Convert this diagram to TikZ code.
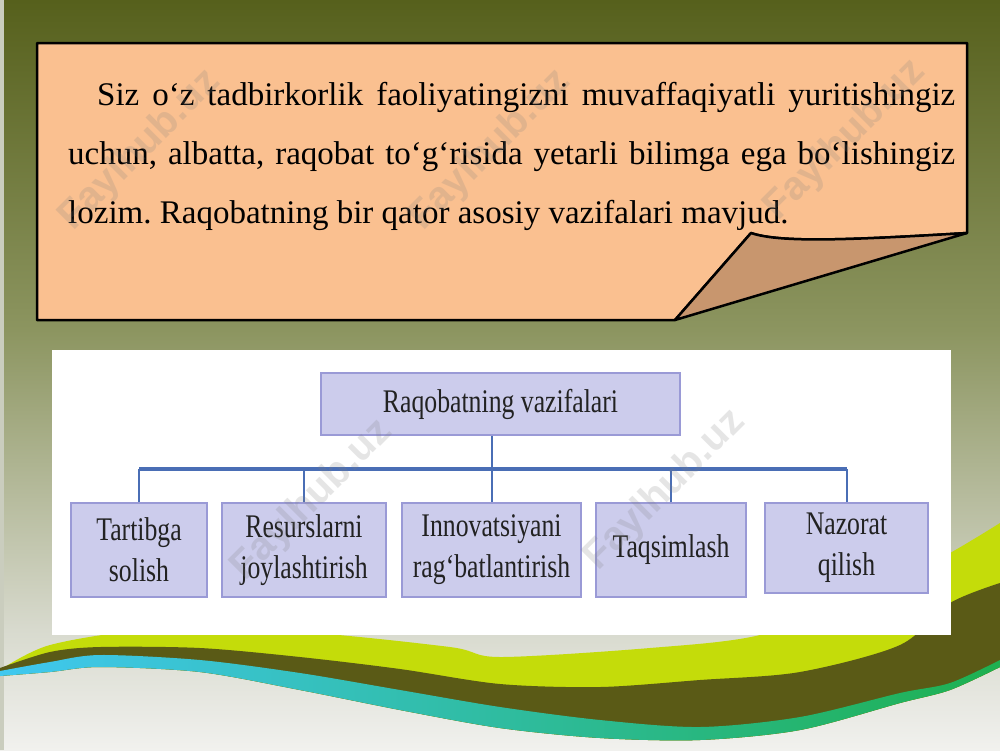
\documentclass[tikz,border=0pt]{standalone}
\usepackage{fontspec}
\setmainfont{Liberation Serif}
\newfontfamily\ChartFont[FakeStretch=0.78]{Liberation Serif}
\newfontfamily\MarkFont{Liberation Sans}
\usetikzlibrary{positioning}
\definecolor{SlideTop}{HTML}{56601C}
\definecolor{SlideMid}{HTML}{8C9560}
\definecolor{SlideLow}{HTML}{D8DACE}
\definecolor{SlideFloor}{HTML}{F1F1EE}
\definecolor{SlideStrip}{HTML}{CACDBE}
\definecolor{NoteFill}{HTML}{FAC090}
\definecolor{NoteFold}{HTML}{C8966E}
\definecolor{ChartFill}{HTML}{CCCCEC}
\definecolor{ChartEdge}{HTML}{9A9AD6}
\definecolor{ChartLink}{HTML}{4A6EB5}
\definecolor{ChartInk}{HTML}{222222}
\definecolor{WaveLime}{HTML}{C4DC0A}
\definecolor{WaveOlive}{HTML}{5A5A16}
\definecolor{WaveCyan}{HTML}{40C8F0}
\definecolor{WaveGreen}{HTML}{1EB050}
\newcommand{\Watermark}[2]{%
  \node[rotate=45,text=gray,opacity=0.2,font=\MarkFont\bfseries\fontsize{40}{40}\selectfont]
    (#1) at (#2) {Faylhub.uz};%
}
\frenchspacing

\begin{document}
\begin{tikzpicture}[
  x=1pt,y=-1pt,
  chartbox/.style={draw=ChartEdge,line width=1.6pt,fill=ChartFill,text=ChartInk,
                   inner sep=0pt,align=center,font=\ChartFont\fontsize{33}{41}\selectfont},
  link/.style={draw=ChartLink,line width=2pt},
  bus/.style={draw=ChartLink,line width=3.5pt},
  fold/.style={draw=black,line width=2.5pt,line join=round},
]
  \useasboundingbox (0,0) rectangle (1000,750);
  \shade[top color=SlideTop,bottom color=SlideMid] (0,0) rectangle (1000,330);
  \shade[top color=SlideMid,bottom color=SlideLow] (0,330) rectangle (1000,630);
  \shade[top color=SlideLow,bottom color=SlideFloor] (0,630) rectangle (1000,750);
  \fill[SlideStrip] (0,0) rectangle (4,750);

  \fill[WaveLime] plot[smooth] coordinates {(0,670) (50,645) (150,630) (300,632) (450,647)
      (500,657) (650,648) (760,635) (870,595) (950,553) (1000,523)}
    -- plot[smooth] coordinates {(1000,667) (950,690) (900,703) (800,730) (700,740) (600,738)
      (500,728) (400,710) (300,690) (200,672) (100,667) (50,672) (0,676)} -- cycle;
  \fill[WaveOlive] plot[smooth] coordinates {(0,668) (50,652) (100,647) (200,648) (300,657)
      (400,669) (500,684) (600,687) (700,680) (800,672) (900,645) (950,603) (1000,583)}
    -- plot[smooth] coordinates {(1000,667) (950,690) (900,703) (800,730) (700,740) (600,738)
      (500,728) (400,710) (300,690) (200,672) (100,667) (50,672) (0,676)} -- cycle;
  \shade[left color=WaveCyan,middle color=WaveCyan!55!WaveGreen,right color=WaveGreen]
    plot[smooth] coordinates {(0,671) (50,662) (100,655) (200,660) (300,673) (400,690)
      (500,707) (600,720) (700,727) (800,717) (900,693) (950,683) (1000,660)}
    -- plot[smooth] coordinates {(1000,667) (950,690) (900,703) (800,730) (700,740) (600,738)
      (500,728) (400,710) (300,690) (200,672) (100,667) (50,672) (0,676)} -- cycle;

  \fill[white] (52,350) rectangle (951,635);

  \filldraw[fold,fill=NoteFill] (37,43) -- (967,43) -- (967,233)
    .. controls (850,240) and (780,243) .. (751,233) -- (675,320) -- (37,320) -- cycle;
  \filldraw[fold,fill=NoteFold] (751,233) .. controls (780,243) and (850,240) .. (967,233)
    -- (675,320) -- cycle;
  \node[anchor=north west,text width=887pt,align=justify,inner sep=0pt,
        font=\fontsize{33}{59}\selectfont] (note) at (68,82.5)
    {\hspace*{29pt}Siz o‘z tadbirkorlik faoliyatingizni muvaffaqiyatli yuritishingiz
     uchun, albatta, raqobat to‘g‘risida yetarli bilimga ega bo‘lishingiz
     lozim. Raqobatning bir qator asosiy vazifalari mavjud.};

  \node[chartbox,minimum width=359pt,minimum height=62pt] (root) at (500.5,404)
    {Raqobatning vazifalari};
  \node[chartbox,minimum width=136pt,minimum height=94pt] (t1) at (139,550)
    {Tartibga\\solish};
  \node[chartbox,minimum width=164pt,minimum height=94pt] (t2) at (304,550)
    {Resurslarni\\joylashtirish};
  \node[chartbox,minimum width=179pt,minimum height=94pt] (t3) at (491.5,550)
    {Innovatsiyani\\rag‘batlantirish};
  \node[chartbox,minimum width=150pt,minimum height=94pt] (t4) at (671,550)
    {Taqsimlash};
  \node[chartbox,minimum width=163pt,minimum height=90pt] (t5) at (846.5,548)
    {Nazorat\\qilish};

  \coordinate (hub) at (0,469);
  \draw[bus] (t1.north |- hub) -- (t5.north |- hub);
  \draw[link] (root.south -| t3.north) -- (t3.north);
  \foreach \k in {1,2,4,5}
    \draw[link] (t\k.north) -- (t\k.north |- hub);

  \Watermark{wm1}{140,150}
  \Watermark{wm2}{490,150}
  \Watermark{wm3}{845,140}
  \Watermark{wm4}{312,500}
  \Watermark{wm5}{665,490}
\end{tikzpicture}
\end{document}
